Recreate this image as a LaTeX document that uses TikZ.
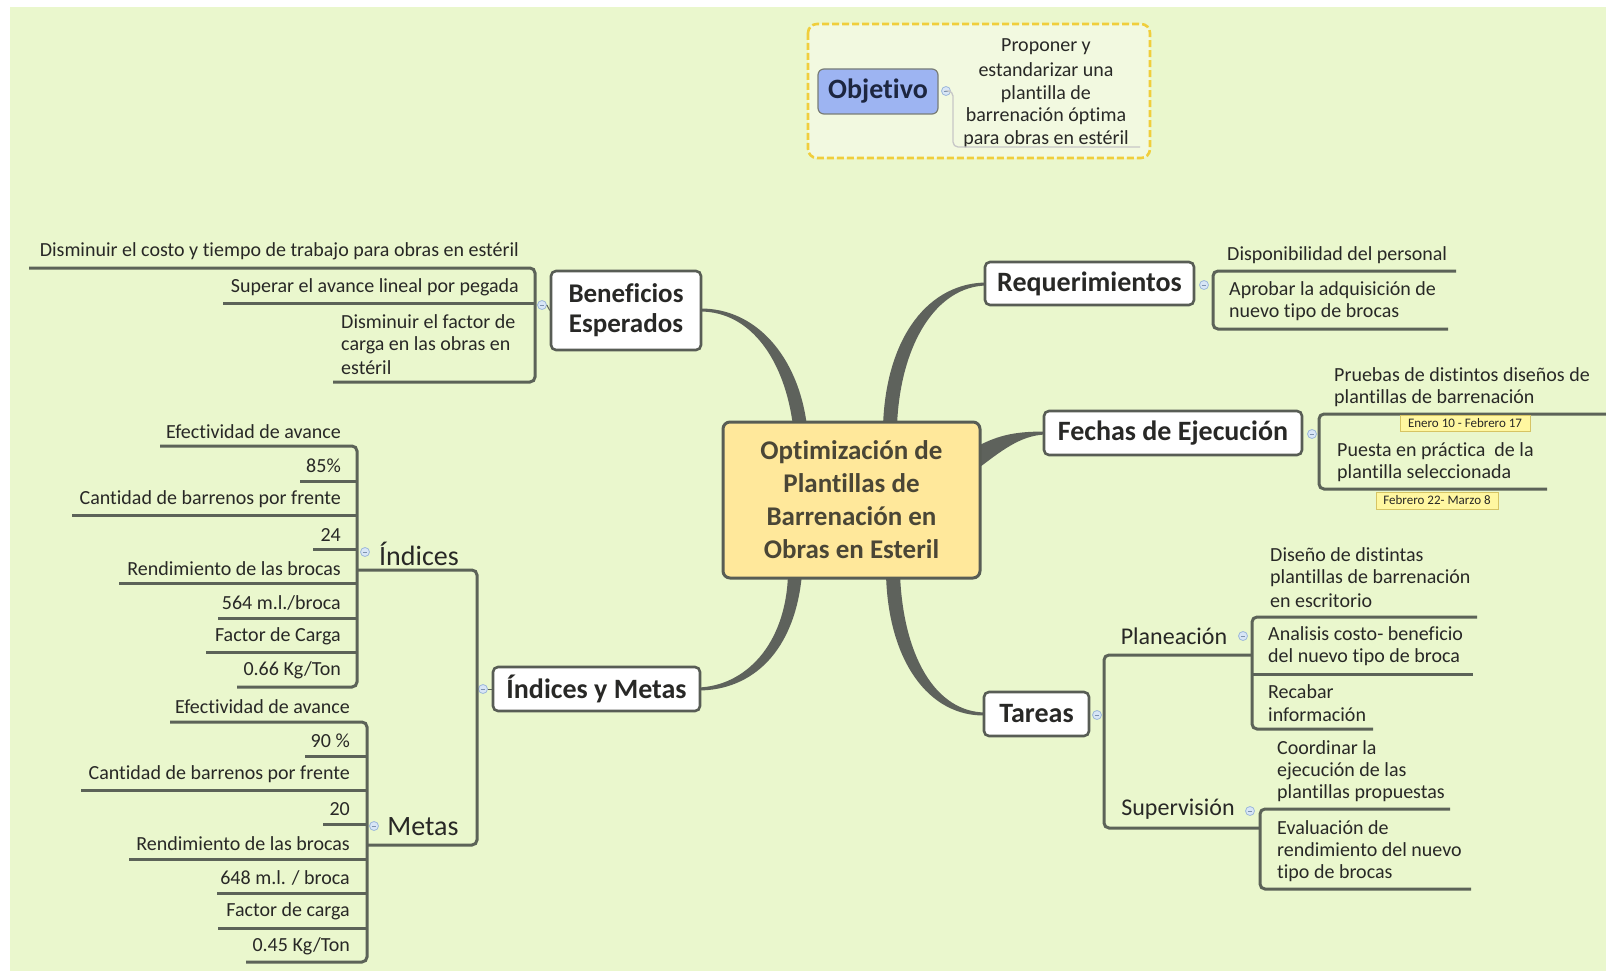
\documentclass[tikz,border=0pt]{standalone}
\usepackage{fontspec}
\setmainfont{Carlito}[Ligatures=NoCommon]
\definecolor{bgc}{RGB}{234,247,205}
\definecolor{ink}{RGB}{40,40,38}
\definecolor{edge}{RGB}{88,93,85}
\definecolor{wirec}{RGB}{92,99,88}
\definecolor{branchc}{RGB}{94,98,92}
\definecolor{rootfill}{RGB}{255,232,155}
\definecolor{rootink}{RGB}{74,70,54}
\definecolor{goalfill}{RGB}{157,180,242}
\definecolor{goalink}{RGB}{29,38,64}
\definecolor{goalbox}{RGB}{242,249,224}
\definecolor{dashy}{RGB}{240,206,60}
\definecolor{tagfill}{RGB}{255,247,160}
\definecolor{tagedge}{RGB}{214,196,100}
\definecolor{foldfill}{RGB}{216,230,246}
\definecolor{foldedge}{RGB}{157,184,218}
\begin{document}
\begin{tikzpicture}[x=1pt,y=-1pt,
  topic/.style={draw=edge, line width=2.6pt, fill=white, rounded corners=5pt,
    text=ink, font=\bfseries\fontsize{28}{30}\selectfont, inner sep=0pt, align=center},
  root/.style={draw=edge, line width=3pt, fill=rootfill, rounded corners=7pt,
    text=rootink, font=\bfseries\fontsize{27}{33}\selectfont, inner sep=0pt, align=center},
  item/.style={text=ink, font=\fontsize{20}{22}\selectfont, inner sep=0pt},
  sub/.style={text=ink, font=\fontsize{24}{26}\selectfont, inner sep=0pt},
  subbig/.style={text=ink, font=\fontsize{28}{30}\selectfont, inner sep=0pt},
  wire/.style={draw=wirec, line width=3pt, rounded corners=5pt},
  thinwire/.style={draw=black!22, line width=1.3pt, rounded corners=5pt},
  tag/.style={draw=tagedge, line width=0.8pt, fill=tagfill, text=ink,
    font=\fontsize{13}{14}\selectfont, inner sep=0pt},
  fold/.style={circle, draw=foldedge, fill=foldfill, line width=0.8pt,
    minimum size=9pt, inner sep=0pt},
  branch/.style={fill=branchc}
]
\newcommand\foldmark[2]{\node[fold] (#1) at (#2) {};
  \draw[foldedge!80!black, line width=0.8pt] ([xshift=-2.3pt]#1.center) -- ([xshift=2.3pt]#1.center);}

\useasboundingbox (0,0) rectangle (1606,971);
\fill[white] (0,0) rectangle (1606,971);
\fill[bgc] (10,7) rectangle (1606,971);

% ---------- objective ----------
\draw[dashy, line width=2.6pt, dash pattern=on 7pt off 3pt, rounded corners=9pt, fill=goalbox]
  (808,24) rectangle (1150,158);
\node[draw=edge!80, line width=1.2pt, fill=goalfill, rounded corners=6pt, minimum width=120pt,
  minimum height=45pt, inner sep=0pt, text=goalink, font=\bfseries\fontsize{28}{30}\selectfont]
  (goal) at (878,91.5) {Objetivo};
\node[item, align=center, font=\fontsize{20}{22.5}\selectfont] (goaltext) at (1046,93)
  {Proponer y\\[3pt]estandarizar una\\plantilla de\\barrenación óptima\\para obras en estéril};
\foldmark{fgoal}{946,91}
\draw[thinwire] (fgoal.east) -- (953,91) -- (953,147) -- (1140,147);

% ---------- main branches (tapered) ----------
\fill[branch] (793,426) .. controls (785,362) and (752,311.5) .. (700,311.5) --
  (700,308.5) .. controls (755,308) and (798,355) .. (807,426) -- cycle;
\fill[branch] (883,426) .. controls (886,335) and (930,282.5) .. (987,282.5) --
  (987,285.5) .. controls (936,286) and (900,345) .. (897,426) -- cycle;
\fill[branch] (976,447) .. controls (1000,434) and (1018,431.5) .. (1046,431.5) --
  (1046,434.5) .. controls (1020,435) and (1000,452) .. (976,470) -- cycle;
\fill[branch] (900,574) .. controls (903,655) and (935,712.5) .. (986,712.5) --
  (986,715.5) .. controls (928,717) and (888,660) .. (886,574) -- cycle;
\fill[branch] (802,574) .. controls (795,652) and (752,690.5) .. (698,690.5) --
  (698,687.5) .. controls (745,686) and (786,645) .. (788,574) -- cycle;

% ---------- central topic ----------
\node[root, minimum width=257pt, minimum height=156pt] (root) at (851.5,500)
  {Optimización de\\Plantillas de\\Barrenación en\\Obras en Esteril};

% ---------- Beneficios Esperados ----------
\node[topic, minimum width=150pt, minimum height=79pt, font=\bfseries\fontsize{27}{30}\selectfont]
  (benef) at (626,310.5) {Beneficios\\Esperados};
\foldmark{fbenef}{542,305}
\draw[wire] (29,268) -- (535,268) -- (535,382) -- (333,382);
\draw[wire] (223,303) -- (535,303);
\draw[wirec, line width=1pt] (fbenef.east) -- (benef.west);
\node[item, anchor=east] (b1) at (519,251) {Disminuir el costo y tiempo de trabajo para obras en estéril};
\node[item, anchor=east] (b2) at (519,287) {Superar el avance lineal por pegada};
\node[item, anchor=west, align=left] (b3) at (341,345) {Disminuir el factor de\\carga en las obras en\\[2pt]estéril};

% ---------- Requerimientos ----------
\node[topic, minimum width=209pt, minimum height=43pt] (req) at (1089.5,283.5) {Requerimientos};
\foldmark{freq}{1204,285}
\draw[wire] (1456,271) -- (1213,271) -- (1213,329) -- (1448,329);
\node[item, anchor=west] (r1) at (1227,255) {Disponibilidad del personal};
\node[item, anchor=west, align=left] (r2) at (1229,301) {Aprobar la adquisición de\\nuevo tipo de brocas};

% ---------- Fechas de Ejecucion ----------
\node[topic, minimum width=258pt, minimum height=44pt] (fech) at (1173,433) {Fechas de Ejecución};
\foldmark{ffech}{1312,434}
\draw[wire] (1606,414) -- (1319,414) -- (1319,489) -- (1547,489);
\node[item, anchor=west, align=left] (e1) at (1334,387.5) {Pruebas de distintos diseños de\\plantillas de barrenación};
\node[tag, minimum width=130pt, minimum height=16pt] (t1) at (1465,423) {Enero 10 - Febrero 17};
\node[item, anchor=west, align=left] (e2) at (1337,462) {Puesta en práctica~ de la\\plantilla seleccionada};
\node[tag, minimum width=122pt, minimum height=17pt] (t2) at (1437,500.5) {Febrero 22- Marzo 8};

% ---------- Tareas ----------
\node[topic, minimum width=105pt, minimum height=44pt] (tar) at (1036.5,714) {Tareas};
\foldmark{ftar}{1097,715}
\draw[wire] (1252,655) -- (1104,655) -- (1104,828) -- (1260,828);
\node[sub] (plan) at (1174,636) {Planeación};
\foldmark{fplan}{1243,636}
\draw[wire] (1477,617) -- (1252,617) -- (1252,729) -- (1373,729);
\draw[wire] (1252,674) -- (1473,674);
\node[item, anchor=west, align=left] (p1) at (1270,578) {Diseño de distintas\\plantillas de barrenación\\[2pt]en escritorio};
\node[item, anchor=west, align=left] (p2) at (1268,646) {Analisis costo- beneficio\\del nuevo tipo de broca};
\node[item, anchor=west, align=left] (p3) at (1268,703.5) {Recabar\\[1pt]información};
\node[sub] (sup) at (1178,809) {Supervisión};
\foldmark{fsup}{1250,811}
\draw[wire] (1450,809) -- (1260,809) -- (1260,889) -- (1471,889);
\node[item, anchor=west, align=left] (s1) at (1277,771) {Coordinar la\\ejecución de las\\plantillas propuestas};
\node[item, anchor=west, align=left] (s2) at (1277,851) {Evaluación de\\rendimiento del nuevo\\tipo de brocas};

% ---------- Indices y Metas ----------
\node[topic, minimum width=207pt, minimum height=44pt] (im) at (596.5,689) {Índices y Metas};
\foldmark{fim}{483,689}
\draw[wire] (358,570) -- (477,570) -- (477,845) -- (367,845);
\draw[wirec, line width=1pt] (fim.east) -- (im.west);

\node[subbig] (ind) at (419,554) {Índices};
\foldmark{find}{365,552}
\draw[wire] (160,446) -- (357,446) -- (357,687) -- (237,687);
\foreach \yy/\xx in {481/300, 515/72, 549/313, 583/119, 618/218, 652/206}
  \draw[wire] (\xx,\yy) -- (357,\yy);
\node[item, anchor=east] (i1) at (341,432) {Efectividad de avance};
\node[item, anchor=east] (i2) at (341,466) {85\%};
\node[item, anchor=east] (i3) at (341,499) {Cantidad de barrenos por frente};
\node[item, anchor=east] (i4) at (341,535) {24};
\node[item, anchor=east] (i5) at (341,569) {Rendimiento de las brocas};
\node[item, anchor=east] (i6) at (341,603) {564 m.l./broca};
\node[item, anchor=east] (i7) at (341,636) {Factor de Carga};
\node[item, anchor=east] (i8) at (341,670) {0.66 Kg/Ton};

\node[subbig] (met) at (423,827) {Metas};
\foldmark{fmet}{374,826}
\draw[wire] (170,722) -- (367,722) -- (367,962) -- (246,962);
\foreach \yy/\xx in {756/305, 790/81, 824/323, 859/129, 893/217, 928/218}
  \draw[wire] (\xx,\yy) -- (367,\yy);
\node[item, anchor=east] (m1) at (350,707) {Efectividad de avance};
\node[item, anchor=east] (m2) at (350,741) {90 \%};
\node[item, anchor=east] (m3) at (350,774) {Cantidad de barrenos por frente};
\node[item, anchor=east] (m4) at (350,809) {20};
\node[item, anchor=east] (m5) at (350,844) {Rendimiento de las brocas};
\node[item, anchor=east] (m6) at (350,878) {648 m.l. / broca};
\node[item, anchor=east] (m7) at (350,911) {Factor de carga};
\node[item, anchor=east] (m8) at (350,946) {0.45 Kg/Ton};
\end{tikzpicture}
\end{document}
